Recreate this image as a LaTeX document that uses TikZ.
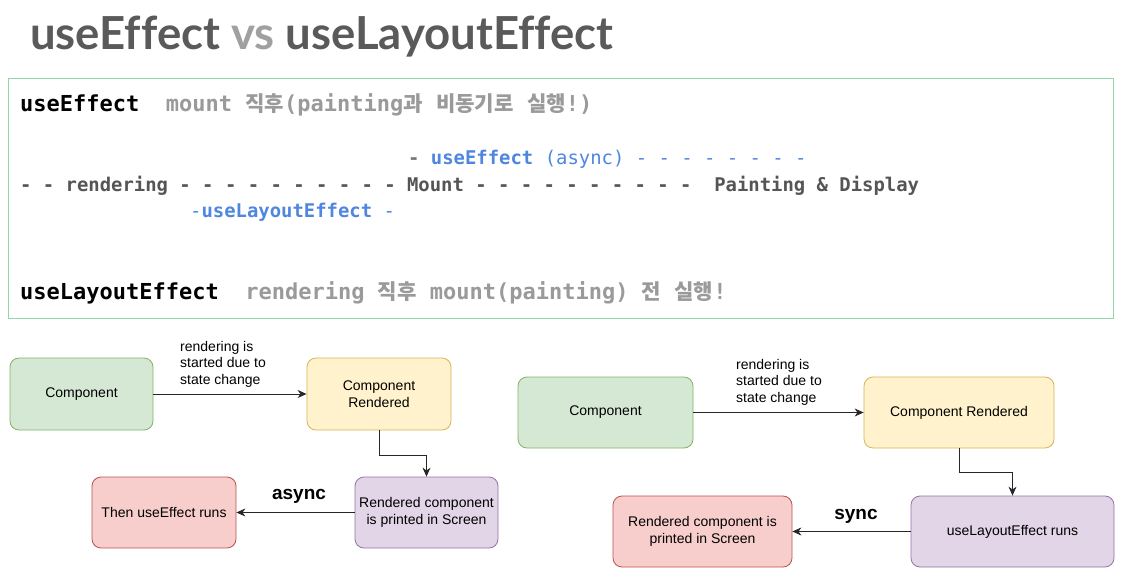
\documentclass[tikz,border=0pt]{standalone}
\usepackage{fontspec}
\setmainfont{Liberation Sans}
\setmonofont{DejaVu Sans Mono}
\newfontfamily\titlefont{Lato}[Ligatures=NoCommon]
\newfontfamily\kr{Noto Sans CJK KR}[Scale=0.96]
\usetikzlibrary{arrows.meta}
\definecolor{titlegray}{HTML}{5A5A5A}
\definecolor{vsgray}{HTML}{A0A0A0}
\definecolor{framegreen}{HTML}{93D6A8}
\definecolor{lightgray}{HTML}{9A9A9A}
\definecolor{darkgray}{HTML}{555555}
\definecolor{dashgray}{HTML}{777777}
\definecolor{hookblue}{HTML}{4F86E0}
\definecolor{gfill}{HTML}{D5E8D4}\definecolor{gline}{HTML}{82B366}
\definecolor{yfill}{HTML}{FFF2CC}\definecolor{yline}{HTML}{D6B656}
\definecolor{pfill}{HTML}{E1D5E7}\definecolor{pline}{HTML}{9673A6}
\definecolor{rfill}{HTML}{F8CECC}\definecolor{rline}{HTML}{B85450}
\newcommand\K[1]{{\kr #1}}
\tikzset{
  monobig/.style={anchor=base west, inner sep=0, font=\ttfamily\bfseries\fontsize{22}{26}\selectfont},
  monosmall/.style={anchor=base west, inner sep=0, font=\ttfamily\bfseries\fontsize{18.9}{22}\selectfont},
  box/.style={draw, rounded corners=9pt, line width=0.8pt, align=center, inner sep=2pt,
    font=\fontsize{14}{16.5}\selectfont},
  gbox/.style={box, fill=gfill, draw=gline},
  ybox/.style={box, fill=yfill, draw=yline},
  pbox/.style={box, fill=pfill, draw=pline},
  rbox/.style={box, fill=rfill, draw=rline},
  arr/.style={draw=black!85, line width=0.9pt, -{Stealth[length=9pt,width=8pt]}},
  lbl/.style={anchor=north west, align=left, inner sep=0, font=\fontsize{14}{16.5}\selectfont},
  modelbl/.style={anchor=base, inner sep=0, font=\bfseries\fontsize{19}{22}\selectfont},
}
\begin{document}
\begin{tikzpicture}[x=1pt,y=-1pt]
\useasboundingbox[fill=white] (0,0) rectangle (1124,580);
% title
\node[anchor=base west, inner sep=0, text=titlegray, font=\titlefont\bfseries\fontsize{45.5}{50}\selectfont] (title) at (30,50)
  {useEffect \textcolor{vsgray}{vs} useLayoutEffect};
% frame
\draw[framegreen, line width=1pt] (8,79) rectangle (1113,318);
% lines
\node[monobig] (l1) at (20,112) {useEffect~ \textcolor{lightgray}{mount \K{직후}(painting\K{과} \K{비동기로} \K{실행}!)}};
\node[monosmall] (l2) at (408,165) {\textcolor{dashgray}{-} \textcolor{hookblue}{useEffect \mdseries(async) - - - - - - - -}};
\node[monosmall, text=darkgray] (l3) at (20,192) {- - rendering - - - - - - - - - - Mount - - - - - - - - - -~ Painting \& Display};
\node[monosmall, text=hookblue] (l4) at (190,218) {{\mdseries-}useLayoutEffect {\mdseries-}};
\node[monobig] (l5) at (20,299) {useLayoutEffect~ \textcolor{lightgray}{rendering \K{직후} mount(painting) \K{전} \K{실행}!}};
% left diagram
\node[gbox, minimum width=143pt, minimum height=72pt] (c1) at (81.5,394) {Component};
\node[ybox, minimum width=144pt, minimum height=72pt] (r1) at (379,394) {Component\\Rendered};
\node[pbox, minimum width=143pt, minimum height=71pt] (p1) at (426.5,512.5) {Rendered component\\is printed in Screen};
\node[rbox, minimum width=144pt, minimum height=71pt] (e1) at (164,512.5) {Then useEffect runs};
\draw[arr] (c1) -- (r1);
\draw[arr] (r1.south) -- ++(0,25) -| (p1.north);
\draw[arr] (p1) -- (e1);
\node[lbl] (t1) at (180,341) {rendering is\\started due to\\state change};
\node[modelbl] (a1) at (299,499) {async};
% right diagram
\node[gbox, minimum width=175pt, minimum height=71pt] (c2) at (605.5,412.5) {Component};
\node[ybox, minimum width=190pt, minimum height=71pt] (r2) at (959,412.5) {Component Rendered};
\node[pbox, minimum width=203pt, minimum height=71pt] (p2) at (1012.5,531.5) {useLayoutEffect runs};
\node[rbox, minimum width=179pt, minimum height=71pt] (e2) at (702.5,531.5) {Rendered component is\\printed in Screen};
\draw[arr] (c2) -- (r2);
\draw[arr] (r2.south) -- ++(0,24) -| (p2.north);
\draw[arr] (p2) -- (e2);
\node[lbl] (t2) at (736,359) {rendering is\\started due to\\state change};
\node[modelbl] (a2) at (856,519) {sync};
\end{tikzpicture}
\end{document}
